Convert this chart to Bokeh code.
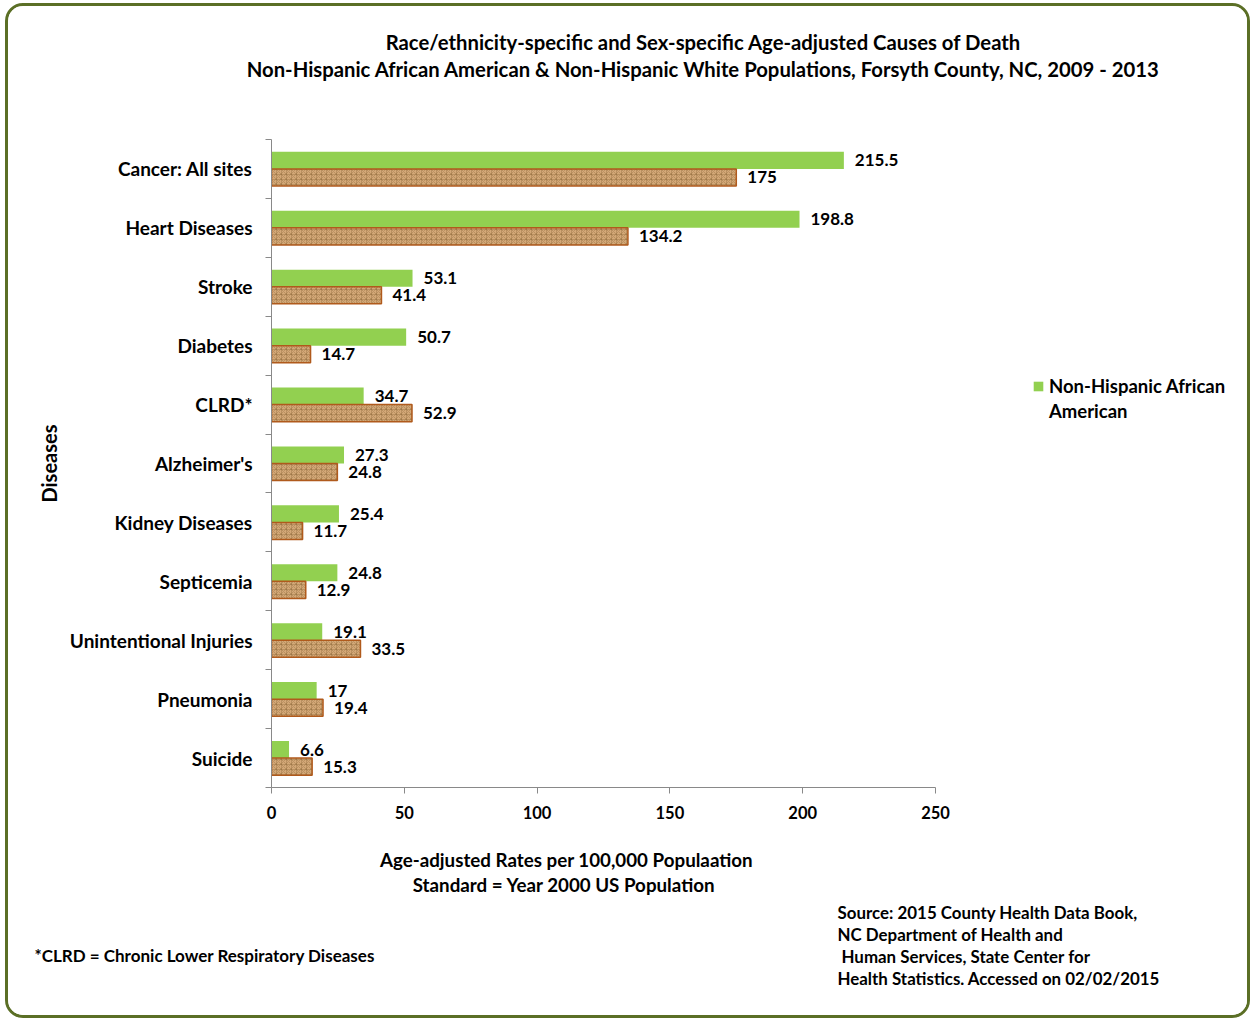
import numpy as np
from bokeh.plotting import figure
from bokeh.layouts import column
from bokeh.models import (ColumnDataSource, Range1d, FixedTicker, LabelSet,
                          Legend, LegendItem)
from bokeh.core.properties import value
from bokeh.embed import file_html
from bokeh.resources import INLINE

# ---------------- data ----------------
categories = ["Cancer: All sites", "Heart Diseases", "Stroke", "Diabetes", "CLRD*",
              "Alzheimer's", "Kidney Diseases", "Septicemia", "Unintentional Injuries",
              "Pneumonia", "Suicide"]
african_american = [215.5, 198.8, 53.1, 50.7, 34.7, 27.3, 25.4, 24.8, 19.1, 17, 6.6]
white = [175, 134.2, 41.4, 14.7, 52.9, 24.8, 11.7, 12.9, 33.5, 19.4, 15.3]
x_ticks = [0, 50, 100, 150, 200, 250]

title_lines = ["Race/ethnicity-specific and Sex-specific Age-adjusted Causes of Death",
               "Non-Hispanic African American & Non-Hispanic White Populations, Forsyth County, NC, 2009 - 2013"]
x_title_lines = ["Age-adjusted Rates per 100,000 Populaation",
                 "Standard =  Year 2000 US Population"]
source_lines = ["Source: 2015 County Health Data Book,",
                "NC Department of Health and",
                " Human Services, State Center for",
                "Health Statistics. Accessed on 02/02/2015"]
footnote = "*CLRD = Chronic Lower Respiratory Diseases"
legend_lines = ["Non-Hispanic African", "American"]

FONT = "Lato"
GREEN = "#92d050"
W = 1239
H1, H2, H3 = 95, 729, 185
n = len(categories)
idx = np.arange(n)[::-1].astype(float)
OFF = 0.145
BAR_H = 0.29

# frame geometry of the main chart (pixels)
LEFT_B, TOP_B, BOT_B = 263, 38, 43
AXIS_PX = 664                     # pixel length of the 0..250 axis
X_MAX = x_ticks[-1] * (W - LEFT_B) / AXIS_PX   # frame reaches the right edge


def text_fig(h):
    f = figure(width=W, height=h, output_backend="svg", toolbar_location=None,
               x_range=Range1d(0, W), y_range=Range1d(h, 0),
               x_axis_type=None, y_axis_type=None, frame_align=False,
               min_border=0, min_border_left=0, min_border_right=0,
               min_border_top=0, min_border_bottom=0)
    f.outline_line_color = None
    f.grid.visible = False
    return f


def put(f, xs, ys, texts, size, align):
    f.text(x=xs, y=ys, text=texts, text_font=value(FONT), text_font_style="bold",
           text_font_size=value(size), text_color="#000000", text_align=align,
           text_baseline="middle")


# ---------------- header ----------------
head = text_fig(H1)
put(head, [695, 695], [35, 62], title_lines, "20.3px", "center")

# ---------------- main chart ----------------
src = ColumnDataSource(dict(
    y_aa=idx + OFF, y_wh=idx - OFF,
    aa=african_american, wh=white,
    aa_txt=[f"{v:g}" for v in african_american],
    wh_txt=[f"{v:g}" for v in white],
))

p = figure(width=W, height=H2, output_backend="svg", toolbar_location=None,
           x_range=Range1d(0, X_MAX), y_range=Range1d(-0.5, n - 0.5), frame_align=False,
           min_border_left=LEFT_B, min_border_right=0, min_border_top=TOP_B,
           min_border_bottom=BOT_B)
p.outline_line_color = None
p.xgrid.grid_line_color = None
p.ygrid.grid_line_color = None

r_aa = p.hbar(y="y_aa", right="aa", left=0, height=BAR_H, source=src,
              fill_color=GREEN, line_color=None)
r_wh = p.hbar(y="y_wh", right="wh", left=0, height=BAR_H, source=src,
              fill_color="#d3a877", line_color="#b05a1c", line_width=1.5,
              hatch_pattern="criss_cross", hatch_color="#8a6437", hatch_alpha=0.35,
              hatch_scale=5, hatch_weight=1)
r_blank = p.hbar(y=[], right=[], left=0, height=BAR_H, fill_alpha=0, line_alpha=0)

lbl_kw = dict(text_font=value(FONT), text_font_style="bold", text_font_size="17px",
              text_color="#000000", text_baseline="middle", x_offset=11)
p.add_layout(LabelSet(x="aa", y="y_aa", text="aa_txt", source=src, **lbl_kw))
p.add_layout(LabelSet(x="wh", y="y_wh", text="wh_txt", source=src, **lbl_kw))

AXC = "#898989"
xa = p.xaxis[0]
xa.ticker = FixedTicker(ticks=x_ticks)
xa.bounds = (x_ticks[0], x_ticks[-1])
xa.axis_line_color = AXC
xa.major_tick_line_color = AXC
xa.major_tick_out = 6
xa.major_tick_in = 0
xa.minor_tick_line_color = None
xa.major_label_text_font = FONT
xa.major_label_text_font_style = "bold"
xa.major_label_text_font_size = "16.5px"
xa.major_label_text_color = "#000000"
xa.major_label_standoff = 12

ya = p.yaxis[0]
ya.ticker = FixedTicker(ticks=list(idx), minor_ticks=list(np.arange(n + 1) - 0.5))
ya.major_label_overrides = {int(i): c for i, c in zip(idx, categories)}
ya.axis_line_color = AXC
ya.major_tick_line_color = None
ya.major_tick_out = 0
ya.major_tick_in = 0
ya.minor_tick_line_color = AXC
ya.minor_tick_out = 6
ya.minor_tick_in = 0
ya.major_label_text_font = FONT
ya.major_label_text_font_style = "bold"
ya.major_label_text_font_size = "19px"
ya.major_label_text_color = "#000000"
ya.major_label_standoff = 13
ya.axis_label = "Diseases"
ya.axis_label_text_font = FONT
ya.axis_label_text_font_style = "bold"
ya.axis_label_text_font_size = "20px"
ya.axis_label_text_color = "#000000"
ya.axis_label_standoff = 6

legend = Legend(items=[LegendItem(label=legend_lines[0], renderers=[r_aa]),
                       LegendItem(label=legend_lines[1], renderers=[r_blank])],
                location=(761, 364), padding=0, margin=0, spacing=0,
                glyph_width=12, glyph_height=12, label_height=25, label_standoff=5,
                label_text_font=FONT, label_text_font_style="bold",
                label_text_font_size="18.5px", label_text_color="#000000",
                border_line_color=None, background_fill_alpha=0)
p.add_layout(legend, "center")

# ---------------- footer ----------------
foot = text_fig(H3)
put(foot, [558, 558], [29, 54], x_title_lines, "18.75px", "center")
put(foot, [829, 829, 833, 829], [82, 104, 126, 148], source_lines, "16.9px", "left")
put(foot, [26], [125], [footnote], "17px", "left")

inner = column(head, p, foot, spacing=0,
               styles={"border": "3px solid #5b6f26", "border-radius": "18px",
                       "overflow": "hidden", "background-color": "white"})
root = column(inner, styles={"padding": "3px 0px 0px 5px"})

open("out.html", "w").write(file_html(root, INLINE))
